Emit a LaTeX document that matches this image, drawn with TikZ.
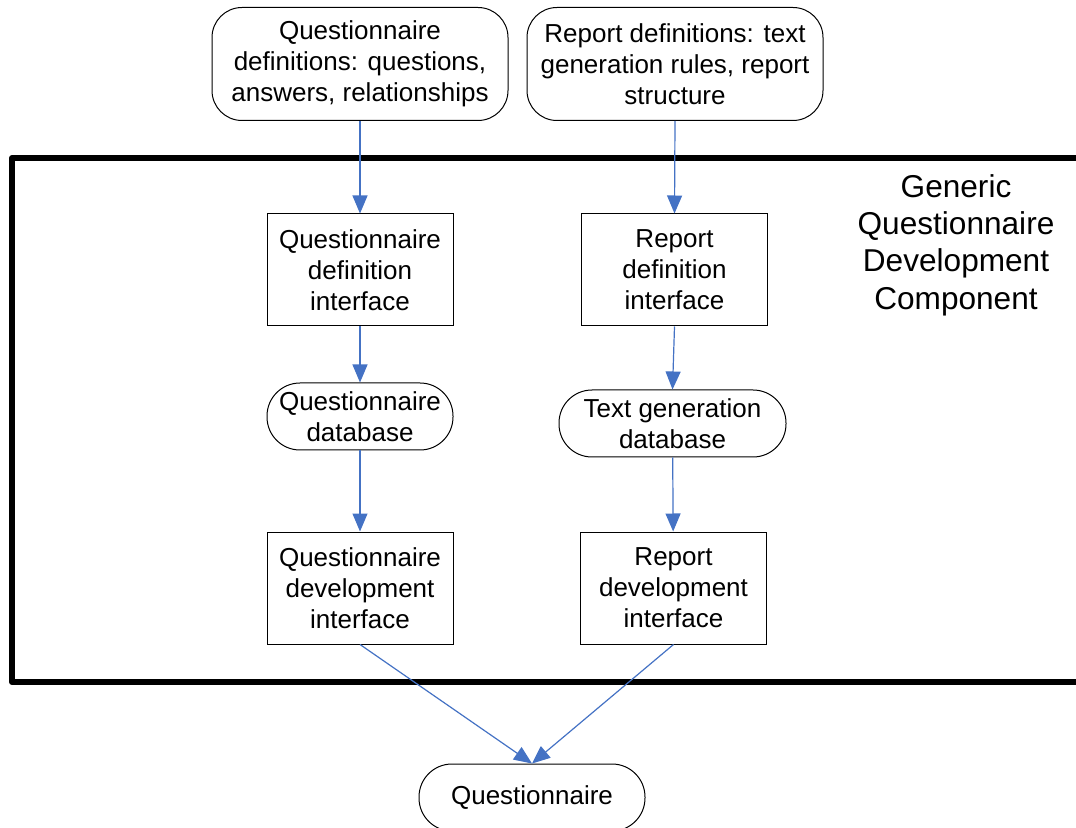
\documentclass[tikz,border=0pt]{standalone}
\usepackage{fontspec}
\setmainfont{Liberation Sans}
\usetikzlibrary{arrows.meta}
\definecolor{flowblue}{RGB}{68,114,196}

\begin{document}
\begin{tikzpicture}[x=0.5pt,y=-0.5pt,
        font=\fontsize{13}{15.5}\selectfont,
        box/.style={draw, line width=0.5pt, align=center, inner sep=0pt, minimum width=93pt, minimum height=56pt},
        source/.style={box, rounded corners=15pt, minimum width=148pt, minimum height=56.5pt},
        store/.style={box, rounded corners=16.5pt, minimum height=33.5pt},
        flow/.style={flowblue, line width=0.6pt, -{Triangle[length=9pt, width=7.5pt]}}]

        \useasboundingbox (0,0) rectangle (1076,828);

        % inputs
        \node[source] (qdefs) at (360,64) {Questionnaire\\definitions: questions,\\answers, relationships};
        \node[source] (rdefs) at (675,64) {Report definitions: text\\generation rules, report\\structure};

        % component frame, open on the right
        \coordinate (ftr) at (1090,158);
        \coordinate (ftl) at (12,158);
        \coordinate (fbl) at (12,682);
        \coordinate (fbr) at (1090,682);
        \draw[line width=3pt, line join=round] (ftr)--(ftl)--(fbl)--(fbr);
        \node[align=center, font=\fontsize{15.8}{18.7}\selectfont] (title) at (956,245) {Generic\\Questionnaire\\Development\\Component};

        % left column
        \node[box] (qdi) at (360,270) {Questionnaire\\definition\\interface};
        \node[store] (qdb) at (360,416.5) {Questionnaire\\database};
        \node[box] (qdev) at (360,588) {Questionnaire\\development\\interface};

        % right column
        \node[box] (rdi) at (674.5,270) {Report\\definition\\interface};
        \node[store, minimum width=113.5pt] (tgdb) at (672.5,423.5) {Text generation\\database};
        \node[box] (rdev) at (673.5,588) {Report\\development\\interface};

        % output
        \node[store, minimum width=113pt] (quest) at (532,797.5) {Questionnaire};

        \draw[flow] (qdefs)--(qdi);
        \draw[flow] (qdi)--(qdb);
        \draw[flow] (qdb)--(qdev);
        \draw[flow] (rdefs.south)--(rdi.north);
        \draw[flow] (rdi.south)--(tgdb.north);
        \draw[flow] (tgdb)--(rdev);
        \draw[flow] (qdev.south)--(quest.north);
        \draw[flow] (rdev.south)--(quest.north);

\end{tikzpicture}
\end{document}
